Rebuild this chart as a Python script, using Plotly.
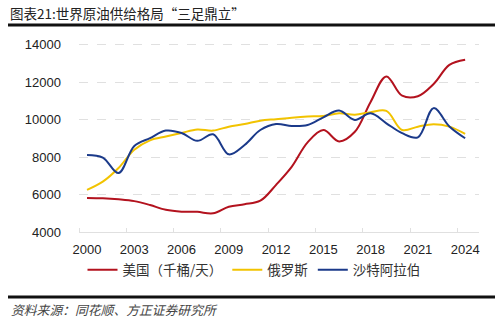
import plotly.graph_objects as go

years = list(range(2000, 2025))
usa = [5822, 5801, 5744, 5649, 5441, 5184, 5086, 5077, 5000, 5353, 5482, 5671, 6520,
       7494, 8789, 9445, 8842, 9355, 10953, 12315, 11283, 11256, 11910, 12930, 13210]
russia = [6250, 6690, 7420, 8400, 8900, 9100, 9290, 9480, 9420, 9630, 9770, 9950, 10030,
          10110, 10170, 10200, 10340, 10270, 10400, 10470, 9450, 9630, 9760, 9630, 9240]
saudi = [8120, 7980, 7150, 8600, 9020, 9420, 9290, 8870, 9220, 8150, 8650, 9450, 9770,
         9670, 9720, 10130, 10490, 9990, 10340, 9810, 9280, 9060, 10620, 9640, 9010]
series_names = ["美国（千桶/天）", "俄罗斯", "沙特阿拉伯"]
colors = ["#B3121E", "#F2C300", "#1B3A8A"]
xtick_vals = [2000, 2003, 2006, 2009, 2012, 2015, 2018, 2021, 2024]
ytick_vals = [4000, 6000, 8000, 10000, 12000, 14000]
ytick_text = ["4000", "6000", "8000", "10000", "12000", "14000"]

CJK = "Noto Sans CJK SC"

fig = go.Figure()
for name, vals, c in zip(series_names, [usa, russia, saudi], colors):
    fig.add_trace(go.Scatter(x=years, y=vals, name=name, mode="lines",
                             line=dict(color=c, width=2, shape="spline", smoothing=1.0)))

# plot area in pixels: x 79..479, y 43..232
L, R, T, B = 79, 479, 43, 232
W, H = 500, 324
def px(x):
    return (x - L) / (R - L)
def py(y):
    return (B - y) / (B - T)

fig.update_layout(
    width=W, height=H,
    margin=dict(l=L, r=W - R, t=T, b=H - B, pad=0),
    paper_bgcolor="white", plot_bgcolor="white",
    font=dict(family="Liberation Sans", color="#333333", size=13),
    showlegend=True,
    legend=dict(orientation="h", x=px(254), xanchor="center", y=py(270), yanchor="middle",
                font=dict(family=CJK, size=13.5, color="#333333"),
                itemwidth=30, tracegroupgap=0, bgcolor="rgba(0,0,0,0)"),
    xaxis=dict(range=[1999.49, 2024.88], tickmode="array", tickvals=xtick_vals,
               ticks="", showgrid=False, zeroline=False,
               showline=True, linecolor="#e0e0e0", linewidth=1,
               ticklabelstandoff=5,
               tickfont=dict(family="Liberation Sans", size=13, color="#222222"),
               minor=dict(tickmode="array",
                          tickvals=[1999.5 + 3 * k for k in range(9)],
                          ticks="inside", ticklen=4, tickcolor="#e0e0e0", showgrid=False)),
    yaxis=dict(range=[4000, 14100], tickmode="array", tickvals=ytick_vals, ticktext=ytick_text,
               ticks="", showgrid=True, gridcolor="#e0e0e0", griddash="dash", gridwidth=1,
               zeroline=False, showline=False, ticklabelstandoff=17,
               tickfont=dict(family="Liberation Sans", size=13, color="#222222")),
)

fig.add_shape(type="line", xref="paper", yref="paper", x0=px(8), x1=px(495), y0=py(25), y1=py(25),
              line=dict(color="#111111", width=3))
fig.add_shape(type="line", xref="paper", yref="paper", x0=px(8), x1=px(495), y0=py(297), y1=py(297),
              line=dict(color="#111111", width=3))

fig.add_annotation(text="图表21:世界原油供给格局“三足鼎立”", xref="paper", yref="paper",
                   x=px(8), y=py(13), xanchor="left", yanchor="middle", showarrow=False,
                   font=dict(family=CJK, size=13.5, color="#222222"))
fig.add_annotation(text="<i>资料来源：同花顺、方正证券研究所</i>", xref="paper", yref="paper",
                   x=px(9), y=py(309), xanchor="left", yanchor="middle", showarrow=False,
                   font=dict(family=CJK, size=12.8, color="#444444"))

fig.write_html("out.html")
